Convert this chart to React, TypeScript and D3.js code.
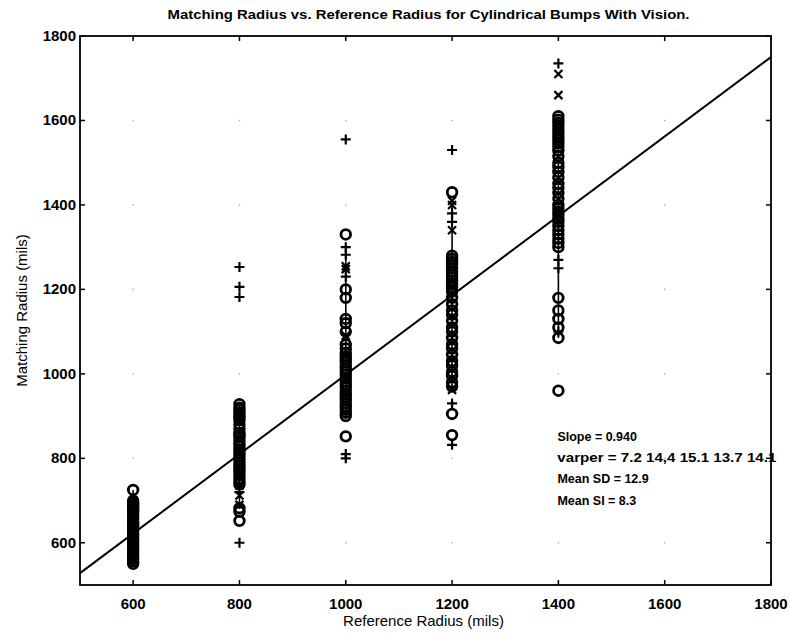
import React from "react";
import * as d3 from "d3";

const title = "Matching Radius vs. Reference Radius for Cylindrical Bumps With Vision.";
const xLabel = "Reference Radius (mils)";
const yLabel = "Matching Radius (mils)";
const xTicks = [600, 800, 1000, 1200, 1400, 1600, 1800];
const yTicks = [600, 800, 1000, 1200, 1400, 1600, 1800];
const refRadii = [600, 800, 1000, 1200, 1400];

// circle markers per reference radius
const circles600 = [725, 700, 695, 690, 685, 680, 675, 670, 664, 657, 650, 645, 640, 633, 628, 622, 617, 610, 604, 598, 592, 586, 580, 574, 568, 562, 556, 550];
const circles800 = [928, 920, 915, 908, 902, 896, 890, 880, 870, 860, 855, 850, 842, 835, 828, 820, 812, 805, 797, 790, 782, 775, 768, 760, 752, 745, 738, 682, 674, 652];
const circles1000 = [1330, 1200, 1180, 1130, 1120, 1100, 1070, 1060, 1050, 1042, 1035, 1028, 1020, 1012, 1005, 998, 990, 982, 975, 968, 960, 952, 945, 938, 930, 922, 915, 908, 900, 852];
const circles1200 = [1430, 1280, 1272, 1265, 1258, 1250, 1242, 1235, 1228, 1220, 1212, 1205, 1195, 1180, 1165, 1150, 1140, 1125, 1110, 1100, 1085, 1070, 1060, 1045, 1030, 1020, 1005, 995, 980, 970, 905, 855];
const circles1400 = [1610, 1602, 1594, 1586, 1578, 1570, 1562, 1554, 1546, 1538, 1528, 1515, 1500, 1490, 1478, 1465, 1450, 1440, 1428, 1415, 1400, 1392, 1384, 1376, 1368, 1360, 1350, 1340, 1330, 1320, 1310, 1300, 1180, 1150, 1130, 1110, 1085, 960];

// plus markers
const plus600 = [660, 615];
const plus800 = [1253, 1206, 1182, 720, 600];
const plus1000 = [1555, 1300, 1282, 1230, 810, 800];
const plus1200 = [1530, 1380, 1360, 930, 832];
const plus1400 = [1735, 1270, 1250, 1100];

// x markers
const cross600 = [690, 640];
const cross800 = [735, 712, 690];
const cross1000 = [1255, 1248, 1090];
const cross1200 = [1410, 1400, 1340, 962];
const cross1400 = [1710, 1660, 1380];

// vertical connector ranges per column
const rangeLow = [550, 680, 900, 960, 1085];
const rangeHigh = [725, 930, 1300, 1400, 1610];

const slope = 0.94;
const intercept = 58;

const statsLines = [
  "Slope = 0.940",
  "varper = 7.2 14,4 15.1 13.7 14.1",
  "Mean SD = 12.9",
  "Mean SI = 8.3",
];
const statsX = 1400;
const statsY = [850, 800, 750, 700];

const circleSets = [circles600, circles800, circles1000, circles1200, circles1400];
const plusSets = [plus600, plus800, plus1000, plus1200, plus1400];
const crossSets = [cross600, cross800, cross1000, cross1200, cross1400];

export default function App() {
  const W = 790, H = 634;
  const left = 80, right = 771, top = 36, bottom = 585;
  const x = d3.scaleLinear().domain([500, 1800]).range([left, right]);
  const y = d3.scaleLinear().domain([500, 1800]).range([bottom, top]);
  const font = "Liberation Sans, Arial, sans-serif";
  const tl = 5;
  const r = 4.8;
  const ps = 5;
  const xs = 4;

  const gridDots: [number, number][] = [];
  [600, 800, 1000, 1200, 1400, 1600].forEach((gx) =>
    [600, 800, 1000, 1200, 1400, 1600].forEach((gy) => gridDots.push([gx, gy]))
  );

  const line = d3.line<number>().x((v) => x(v)).y((v) => y(slope * v + intercept));

  return (
    <svg width={W} height={H} style={{ position: "absolute", left: 0, top: 0, background: "#fff" }} fontFamily={font}>
      <rect width={W} height={H} fill="#fff" />
      <text x={(left + right) / 2 + 3} y={19} textAnchor="middle" fontSize={13.5} fontWeight="bold" textLength={522} lengthAdjust="spacingAndGlyphs">{title}</text>

      {gridDots.map(([gx, gy], i) => (
        <circle key={"g" + i} cx={x(gx)} cy={y(gy)} r={0.8} fill="#aaa" />
      ))}

      {/* axes box */}
      <rect x={left} y={top} width={right - left} height={bottom - top} fill="none" stroke="#000" strokeWidth={1.8} />
      {xTicks.map((t) => (
        <g key={"xt" + t}>
          <line x1={x(t)} x2={x(t)} y1={bottom} y2={bottom - tl} stroke="#000" strokeWidth={1.5} />
          <line x1={x(t)} x2={x(t)} y1={top} y2={top + tl} stroke="#000" strokeWidth={1.5} />
          <text x={x(t)} y={bottom + 24} textAnchor="middle" fontSize={15} fontWeight="bold">{t}</text>
        </g>
      ))}
      {yTicks.map((t) => (
        <g key={"yt" + t}>
          <line x1={left} x2={left + tl} y1={y(t)} y2={y(t)} stroke="#000" strokeWidth={1.5} />
          <line x1={right} x2={right - tl} y1={y(t)} y2={y(t)} stroke="#000" strokeWidth={1.5} />
          <text x={left - 4} y={y(t) + 5} textAnchor="end" fontSize={15} fontWeight="bold">{t}</text>
        </g>
      ))}
      <text x={(left + right) / 2 - 2} y={626} textAnchor="middle" fontSize={15}>{xLabel}</text>
      <text transform={`translate(27,${(top + bottom) / 2}) rotate(-90)`} textAnchor="middle" fontSize={15}>{yLabel}</text>

      {/* fit line */}
      <path d={line([500, 1800]) || ""} fill="none" stroke="#000" strokeWidth={2} />

      {/* connectors */}
      {refRadii.map((rr, i) => (
        <line key={"c" + rr} x1={x(rr)} x2={x(rr)} y1={y(rangeLow[i])} y2={y(rangeHigh[i])} stroke="#000" strokeWidth={1.6} />
      ))}

      {refRadii.map((rr, i) => (
        <g key={"m" + rr}>
          {circleSets[i].map((v, j) => (
            <circle key={"o" + j} cx={x(rr)} cy={y(v)} r={r} fill="none" stroke="#000" strokeWidth={2.8} />
          ))}
          {plusSets[i].map((v, j) => (
            <path key={"p" + j} d={`M${x(rr) - ps},${y(v)}H${x(rr) + ps}M${x(rr)},${y(v) - ps}V${y(v) + ps}`} stroke="#000" strokeWidth={2.2} />
          ))}
          {crossSets[i].map((v, j) => (
            <path key={"x" + j} d={`M${x(rr) - xs},${y(v) - xs}L${x(rr) + xs},${y(v) + xs}M${x(rr) - xs},${y(v) + xs}L${x(rr) + xs},${y(v) - xs}`} stroke="#000" strokeWidth={2.2} />
          ))}
        </g>
      ))}

      {statsLines.map((s, i) => (
        <text key={"s" + i} x={x(statsX) - 1} y={y(statsY[i]) + 4} fontSize={12.5} fontWeight="bold"
          textLength={i === 1 ? 219 : undefined} lengthAdjust="spacingAndGlyphs">{s}</text>
      ))}
    </svg>
  );
}
